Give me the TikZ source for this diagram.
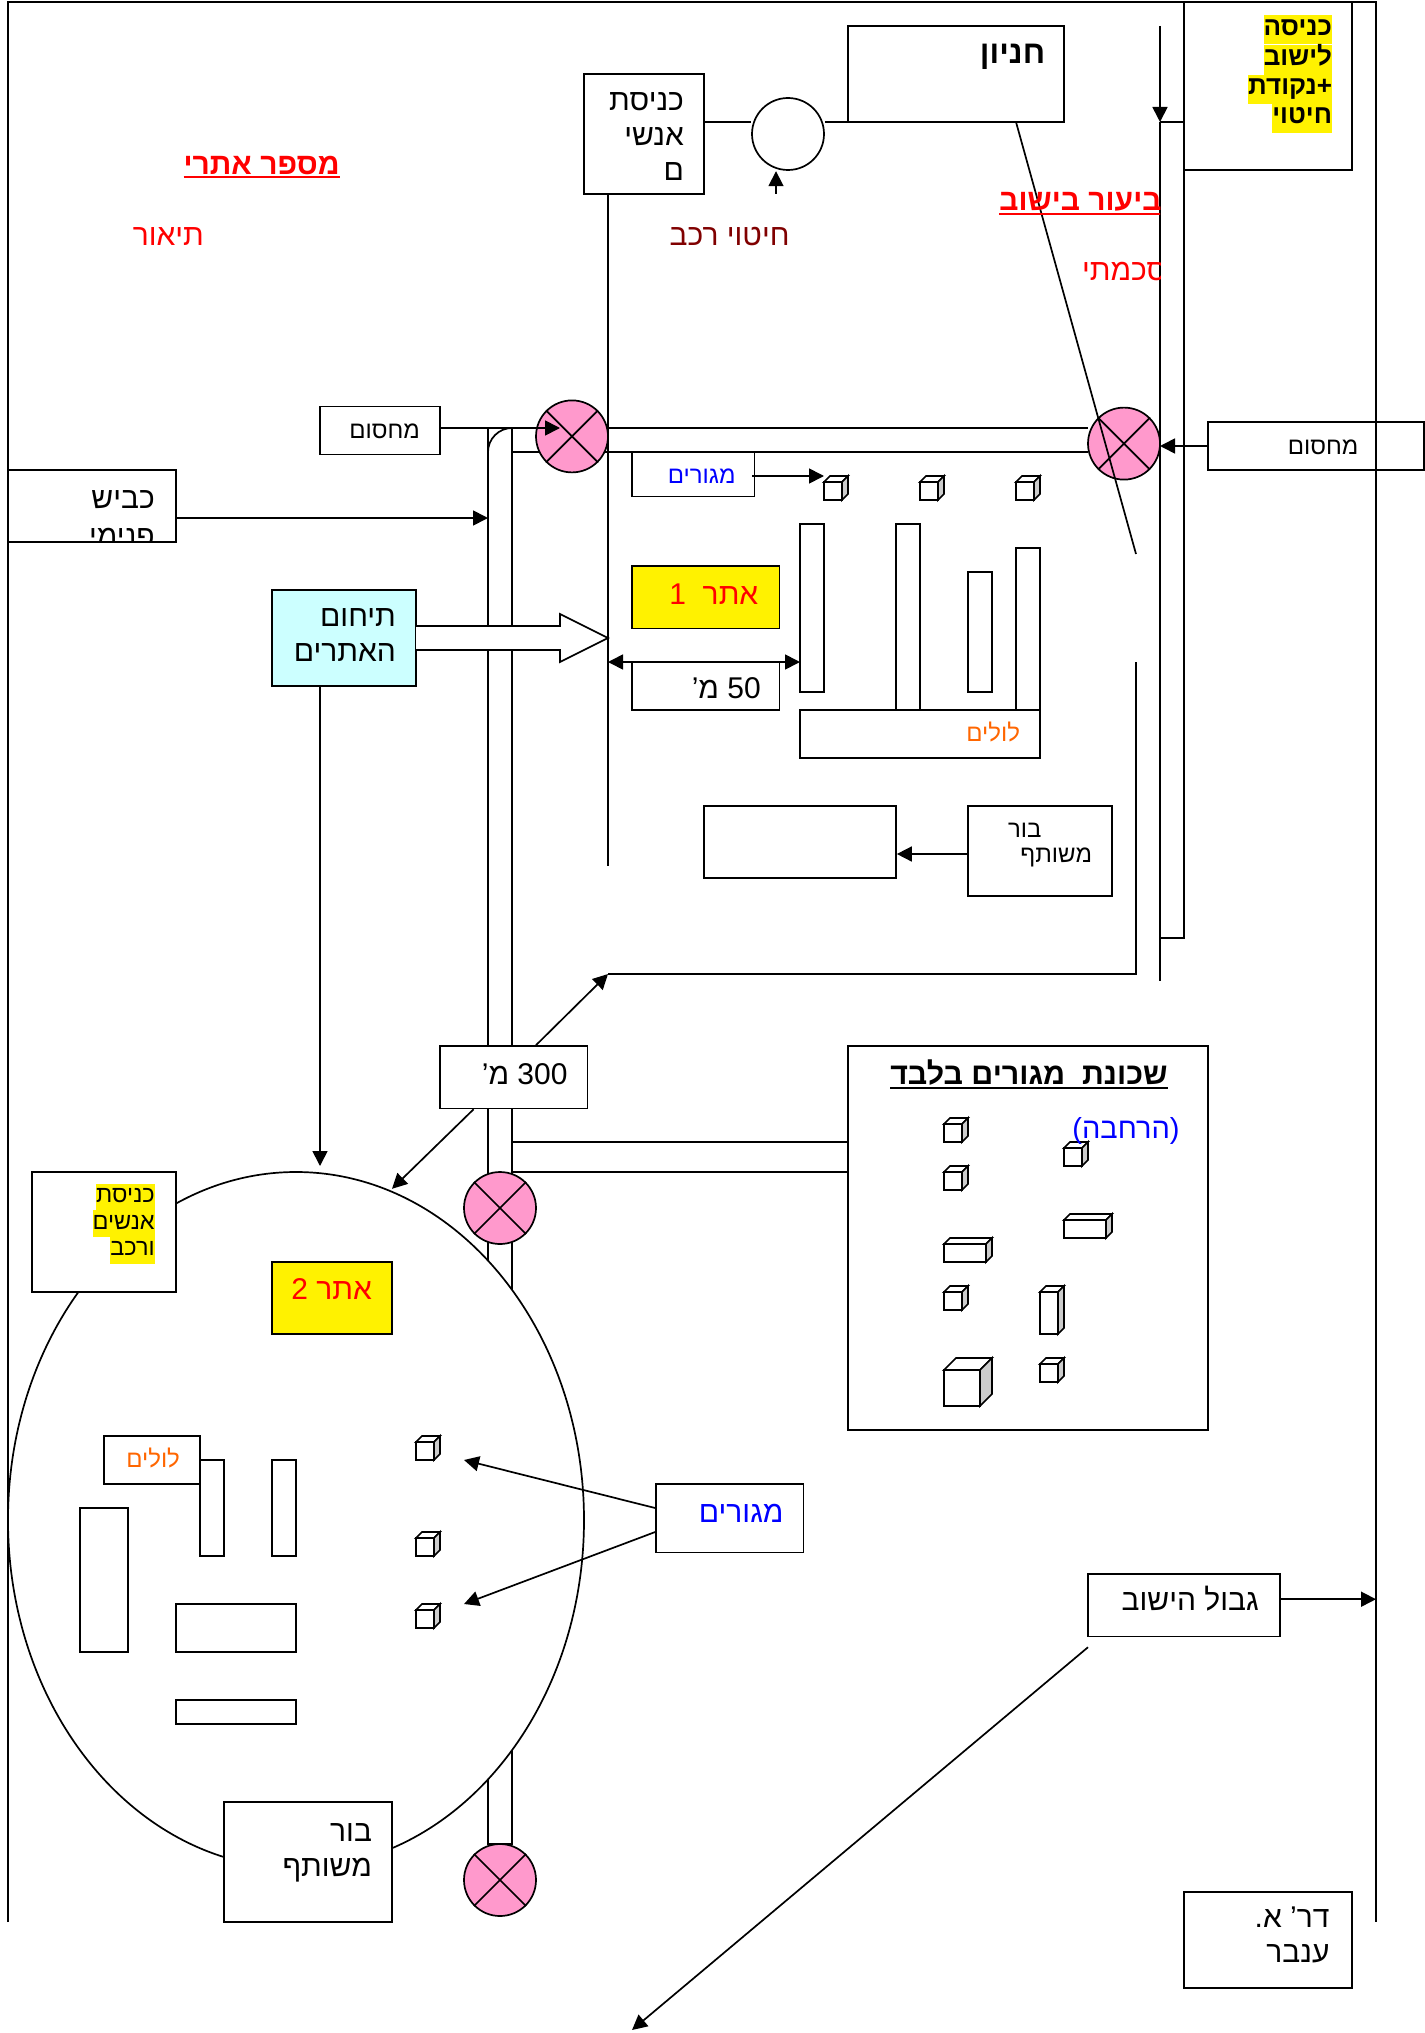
\documentclass[tikz,border=0pt]{standalone}
\usepackage{fontspec}
\setmainfont[Script=Hebrew]{Liberation Sans}
\usetikzlibrary{shapes,fit,calc,arrows.meta}
\TeXXeTstate=1
\definecolor{gatepink}{HTML}{FF99CC}
\definecolor{sectorcyan}{HTML}{CCFFFF}
\definecolor{darkred}{HTML}{800000}
\definecolor{coopsorange}{HTML}{FF6600}
\definecolor{housegray}{HTML}{CCCCCC}
\setlength{\fboxsep}{0pt}
\newcommand{\heb}[1]{\beginR #1\endR}
\newcommand{\ulheb}[1]{\vtop{\hbox{\heb{#1}}\kern1.5pt\hrule height 2.5pt}}
\newcommand{\hlheb}[1]{\colorbox{yellow}{\strut\heb{#1}}}
\tikzset{
  plainbox/.style={draw,fill=white,inner sep=0pt},
  gate/.style={circle,draw,fill=gatepink,minimum size=72pt,inner sep=0pt},
  lbl/.style={anchor=base east,inner sep=0pt},
  mlbl/.style={anchor=north east,inner sep=0pt,align=right},
  bigtxt/.style={font=\fontsize{30}{35}\selectfont},
  boldtxt/.style={font=\fontsize{30}{35}\selectfont\bfseries},
  midtxt/.style={font=\fontsize{24}{27}\selectfont},
  hltxt/.style={font=\fontsize{23.5}{26.7}\selectfont},
  >={Triangle[length=15pt,width=15pt]}
}
\begin{document}
\begin{tikzpicture}[x=24pt,y=-24pt,line width=1.7pt]
\useasboundingbox (-0.3333,-0.0833) rectangle (59,84.625);

  % kvish
\draw (20,17.75) -- (20,76.75) -- (21,76.75) -- (21,17.75);
\draw (20,18.75) .. controls (20,18.2) and (20.45,17.75) .. (21,17.75);
\draw (20,17.75) -- (23,17.75);
\draw (21,18.75) -- (45,18.75);
\draw (25,17.75) -- (45,17.75);
\draw (21,47.5) -- (35,47.5);
\draw (21,48.75) -- (35,48.75);
\draw (48,5) -- (48,40.8);
\draw (48,5) -- (49,5);
\draw (49,0) -- (49,39) -- (48,39);
\draw (25,8) -- (25,36);

  % gvul
\coordinate (campTip) at (25,40.5);
\draw (47,27.5) -- (47,40.5) -- (campTip);

\foreach \n/\x/\y in {gateA/23.5/18.1,gateB/46.5/18.4,gateC/20.5/50.25,gateD/20.5/78.25}
{
  \node[gate] (\n) at (\x,\y) {};
  \draw (\n.north west) -- (\n.south east);
  \draw (\n.north east) -- (\n.south west);
}

  % atar 2
\node[ellipse,draw,fill=white,minimum width=576pt,minimum height=696pt,inner sep=0pt] (atarB) at (12,63.25) {};

\node[plainbox,fit={(24,3) (29,8)}] (entry) {};
\node[circle,draw,fill=white,minimum size=72pt,inner sep=0pt] (disinfect) at (32.5,5.5) {};
\node[plainbox,fit={(35,1) (44,5)}] (shop) {};
\node[plainbox,fit={(49,0) (56,7)}] (gateway) {};
\node[plainbox,fit={(13,16.85) (18,18.85)}] (blockL) {};
\node[draw,inner sep=0pt,fit={(50,17.5) (59,19.5)}] (blockR) {};
\node[plainbox,fit={(0,19.5) (7,22.5)}] (road) {};
\node[plainbox,fill=sectorcyan,fit={(11,24.5) (17,28.5)}] (sector) {};
\node[plainbox,fit={(26,18.75) (31.1,20.6)}] (homesA) {};
\node[plainbox,fill=yellow,fit={(26,23.5) (32.15,26.1)}] (siteA) {};
\node[plainbox,fit={(26,27.5) (32.15,29.5)}] (dist) {};
\node[plainbox,fit={(33,21.75) (34,28.75)}] (barA) {};
\node[plainbox,fit={(37,21.75) (38,29.5)}] (barB) {};
\node[plainbox,fit={(40,23.75) (41,28.75)}] (barC) {};
\node[plainbox,fit={(42,22.75) (43,29.5)}] (barD) {};
\node[plainbox,fit={(33,29.5) (43,31.5)}] (coops) {};
\node[plainbox,fit={(29,33.5) (37,36.5)}] (pit) {};
\node[plainbox,fit={(40,33.5) (46,37.25)}] (pitlbl) {};
\node[plainbox,fit={(18,43.5) (24.15,46.1)}] (farA) {};
\node[plainbox,fit={(35,43.5) (50,59.5)}] (suburb) {};
\node[plainbox,fit={(1,48.75) (7,53.75)}] (entryB) {};
\node[plainbox,fill=yellow,fit={(11,52.5) (16,55.5)}] (siteB) {};
\node[plainbox,fit={(8,60.75) (9,64.75)}] (barE) {};
\node[plainbox,fit={(11,60.75) (12,64.75)}] (barF) {};
\node[plainbox,fit={(4,59.75) (8,61.75)}] (coopsB) {};
\node[plainbox,fit={(3,62.75) (5,68.75)}] (barG) {};
\node[plainbox,fit={(7,66.75) (12,68.75)}] (barH) {};
\node[plainbox,fit={(7,70.75) (12,71.75)}] (barI) {};
\node[plainbox,fit={(27,61.75) (33.15,64.6)}] (homesB) {};
\node[plainbox,fit={(9,75) (16,80)}] (pitB) {};
\node[plainbox,fit={(45,65.5) (53,68.1)}] (border) {};
\node[plainbox,fit={(49,78.75) (56,82.75)}] (credit) {};

  % batim
\foreach \x/\y/\w/\h/\d in {34/19.75/1/1/.25,38/19.75/1/1/.25,42/19.75/1/1/.25,
  39/46.5/1/1/.25,39/48.5/1/1/.25,44/47.5/1/1/.25,39/51.5/2/1/.25,44/50.5/2/1/.25,
  39/53.5/1/1/.25,43/53.5/1/2/.25,39/56.5/2/2/.5,43/56.5/1/1/.25,
  17/59.75/1/1/.25,17/63.75/1/1/.25,17/66.75/1/1/.25}
{
  \draw[fill=white] (\x,\y+\d) rectangle (\x+\w-\d,\y+\h);
  \draw[fill=white] (\x,\y+\d) -- (\x+\d,\y) -- (\x+\w,\y) -- (\x+\w-\d,\y+\d) -- cycle;
  \draw[fill=housegray] (\x+\w-\d,\y+\d) -- (\x+\w,\y) -- (\x+\w,\y+\h-\d) -- (\x+\w-\d,\y+\h) -- cycle;
}

  % chetz chalul
\draw[fill=white] (17,26) -- (23,26) -- (23,25.5) -- (25,26.5) -- (23,27.5) -- (23,27) -- (17,27);

  % chiburim
\coordinate (gateAin) at (23,17.75);
\coordinate (roadin) at (20,21.5);
\coordinate (dropin) at (13,48.5);
\coordinate (shopin) at (48,5);
\coordinate (shopout) at (48,1);
\coordinate (homesout) at (31,19.75);
\coordinate (homesin) at (34,19.75);
\coordinate (distL) at (25,27.5);
\coordinate (distR) at (33,27.5);
\coordinate (borderout) at (45,68.55);
\coordinate (bordertip) at (26,84.5);
\coordinate (homesBtop) at (19,60.75);
\coordinate (homesBbot) at (19,66.75);
\draw (entry.east |- 0,5) -- (disinfect.west |- 0,5);
\draw (disinfect.east |- 0,5) -- (shop.west |- 0,5);
\draw[->] (32,8) -- (32,7.05);
\draw[->] (shopout) -- (shopin);
\draw[->] (blockL.east |- gateAin) -- (gateAin);
\draw[->] (blockR.west |- 0,18.5) -- (48,18.5);
\draw[->] (road.east |- roadin) -- (roadin);
\draw[->] (homesout) -- (homesin);
\draw[<->] (distL) -- (distR);
\draw[->] (pitlbl.west |- 0,35.5) -- (pit.east |- 0,35.5);
\draw[->] (sector.south -| dropin) -- (dropin);
\draw[->] (farA.north -| 22,0) -- (campTip);
\draw[->] (farA.south -| 19.4,0) -- (16,49.45);
\draw[->] (homesB.west |- 0,62.75) -- (homesBtop);
\draw[->] (homesB.west |- 0,63.75) -- (homesBbot);
\draw[->] (border.east |- 0,66.55) -- (57,66.55);
\draw[->] (borderout) -- (bordertip);
\draw (42,5) -- (47,23);

  % misgeret
\draw (0,80) -- (0,0) -- (57,0) -- (57,80);

  % tekst
\begin{scope}
  \clip (25,0) rectangle (48,20);
  \node[lbl,boldtxt,red] (explain) at (48.1,8.7) {\ulheb{ביעור בישוב}};
  \node[lbl,bigtxt,red] (schema) at (48.3,11.6) {\heb{סכמתי}};
\end{scope}
\begin{scope}
  \clip (0,19.5) rectangle (7,22.5);
  \node[mlbl,bigtxt] (roadtxt) at (6.15,20.3) {\heb{כביש}\\[3pt]\heb{פנימי}};
\end{scope}
\node[lbl,boldtxt,red] (sitenum) at (13.85,7.17) {\ulheb{מספר אתרי}};
\node[lbl,bigtxt,red] (descr) at (8.2,10.15) {\heb{תיאור}};
\node[lbl,bigtxt,darkred] (wash) at (32.6,10.15) {\heb{חיטוי רכב}};
\node[mlbl,bigtxt] (entrytxt) at (28.2,3.75) {\heb{כניסת}\\\heb{אנשי}\\\heb{ם}};
\node[lbl,font=\fontsize{32}{35}\selectfont\bfseries] (shoptxt) at (43.25,2.58) {\heb{חניון}};
\node[mlbl,font=\fontsize{26}{29}\selectfont\bfseries] (gatetxt) at (55.2,0.5) {\hlheb{כניסה}\\\hlheb{לישוב}\\\hlheb{+נקודת}\\\hlheb{חיטוי}};
\node[lbl,midtxt] (blockLt) at (17.2,18.2) {\heb{מחסום}};
\node[lbl,midtxt] (blockRt) at (56.3,18.85) {\heb{מחסום}};
\node[mlbl,bigtxt] (sectortxt) at (16.2,25.25) {\heb{תיחום}\\\heb{האתרים}};
\node[lbl,midtxt,blue] (homesAt) at (30.35,20.05) {\heb{מגורים}};
\node[lbl,bigtxt,red] (siteAt) at (31.3,25.1) {\heb{אתר\ \ \beginL 1\endL}};
\node[lbl,bigtxt] (distt) at (31.4,29) {\heb{\beginL 50\endL{} מ’}};
\node[lbl,midtxt,coopsorange] (coopst) at (42.2,30.8) {\heb{לולים}};
\node[lbl,midtxt] (pitt) at (43.1,34.8) {\heb{בור}};
\node[lbl,midtxt] (pitu) at (45.2,35.85) {\heb{משותף}};
\node[lbl,bigtxt] (farAt) at (23.35,45.1) {\heb{\beginL 300\endL{} מ’}};
\node[lbl,font=\fontsize{30.4}{35}\selectfont\bfseries] (suburbu) at (48.35,45.1) {\ulheb{שכונת\ \ מגורים בלבד}};
\node[lbl,font=\fontsize{29}{35}\selectfont,blue] (expand) at (48.85,47.35) {\heb{(הרחבה)}};
\node[mlbl,hltxt] (entryBt) at (6.15,49.2) {\hlheb{כניסת}\\\hlheb{אנשים}\\\hlheb{ורכב}};
\node[lbl,bigtxt,red] (siteBt) at (15.2,54.05) {\heb{אתר \beginL 2\endL}};
\node[lbl,midtxt,coopsorange] (coopsBt) at (7.2,61.05) {\heb{לולים}};
\node[lbl,bigtxt,blue] (homesBt) at (32.35,63.35) {\heb{מגורים}};
\node[mlbl,bigtxt] (pitBt) at (15.2,75.85) {\heb{בור}\\\heb{משותף}};
\node[lbl,bigtxt] (bordert) at (52.15,67) {\heb{גבול הישוב}};
\node[mlbl,bigtxt] (creditt) at (55.1,79.35) {\heb{דר’ א.}\\\heb{ענבר}};
\end{tikzpicture}
\end{document}
